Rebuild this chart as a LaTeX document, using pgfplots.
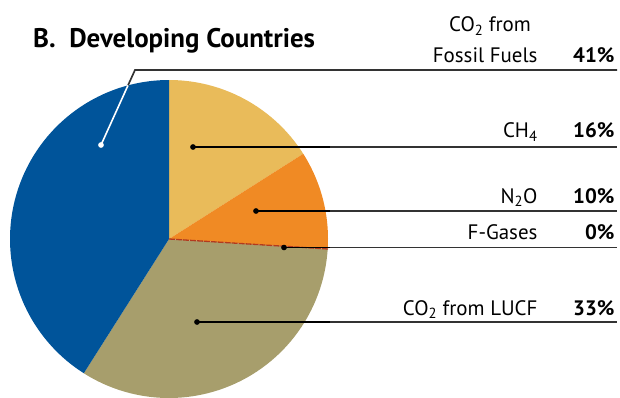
\documentclass[border=0pt]{standalone}
\usepackage{pgfplots}
\pgfplotsset{compat=1.18}
\usepackage{fontspec}
\setmainfont{PT Sans}
\definecolor{cBlue}{HTML}{00549A}
\definecolor{cYel}{HTML}{E9BB5A}
\definecolor{cOra}{HTML}{F08A24}
\definecolor{cOli}{HTML}{A79E6C}
\definecolor{cRed}{HTML}{B23A1E}
\definecolor{cLine}{HTML}{333333}
% shares in percent
\def\pCH{16}
\def\pNO{10}
\def\pFG{0}
\def\pLU{33}
\def\pFF{41}
\begin{document}
\begin{tikzpicture}
\pgfmathsetmacro{\aA}{90}
\pgfmathsetmacro{\aB}{\aA-3.6*\pCH}
\pgfmathsetmacro{\aC}{\aB-3.6*\pNO}
\pgfmathsetmacro{\aD}{\aC-3.6*\pFG}
\pgfmathsetmacro{\aE}{\aD-3.6*\pLU}
\pgfmathsetmacro{\aF}{\aE-3.6*\pFF}
\begin{axis}[
  width=620bp, height=397bp, scale only axis,
  xmin=0, xmax=620, ymin=0, ymax=397,
  hide axis, clip=true,
]
% pie sectors (centre 169,158; radius 159)
\addplot[fill=cYel, draw=none, domain=\aB:\aA, samples=80, variable=\t] ({169+159*cos(\t)},{158+159*sin(\t)}) -- (169,158) -- cycle;
\addplot[fill=cOra, draw=none, domain=\aC:\aB, samples=60, variable=\t] ({169+159*cos(\t)},{158+159*sin(\t)}) -- (169,158) -- cycle;
\addplot[fill=cOli, draw=none, domain=\aE:\aD, samples=120, variable=\t] ({169+159*cos(\t)},{158+159*sin(\t)}) -- (169,158) -- cycle;
\addplot[fill=cBlue, draw=none, domain=\aF:\aE, samples=140, variable=\t] ({169+159*cos(\t)},{158+159*sin(\t)}) -- (169,158) -- cycle;
% F-gases: 0% drawn as thin line
\addplot[cRed, line width=1.3pt, dash pattern=on 6pt off 1pt] coordinates {(169,158) (328,148)};
% leader lines
\addplot[cLine, line width=1.7pt] coordinates {(128,311.6) (135,327) (617,327)};
\addplot[white, line width=1.6pt] coordinates {(101,252) (128,311.6)};
\addplot[black, line width=1.3pt] coordinates {(193,250) (330,250)};
\addplot[cLine, line width=2pt] coordinates {(330,250) (617,250)};
\addplot[black, line width=1.3pt] coordinates {(256,186) (330,186)};
\addplot[cLine, line width=2pt] coordinates {(330,186) (617,186)};
\addplot[black, line width=1.3pt] coordinates {(284,149.5) (330,149.5)};
\addplot[cLine, line width=2pt] coordinates {(330,149.5) (617,149.5)};
\addplot[black, line width=1.3pt] coordinates {(197,75) (330,75)};
\addplot[cLine, line width=2pt] coordinates {(330,75) (617,75)};
% dots
\addplot[only marks, mark=*, mark size=2.6pt, black] coordinates {(193,250) (256,186) (284,149.5) (197,75)};
\addplot[only marks, mark=*, mark size=2.6pt, white] coordinates {(101,252)};
% texts
\node[anchor=base west, inner sep=0pt, font=\bfseries\fontsize{27}{30}\selectfont] at (33,349) {B.\ \ Developing Countries};
\node[anchor=base, font=\fontsize{21}{24}\selectfont] at (490,365) {CO\textsubscript{2} from};
\node[anchor=base east, font=\fontsize{21}{24}\selectfont] at (541,334) {Fossil Fuels};
\node[anchor=base east, font=\bfseries\fontsize{21}{24}\selectfont] at (618,334) {41\%};
\node[anchor=base east, font=\fontsize{21}{24}\selectfont] at (541,259) {CH\textsubscript{4}};
\node[anchor=base east, font=\bfseries\fontsize{21}{24}\selectfont] at (618,259) {16\%};
\node[anchor=base east, font=\fontsize{21}{24}\selectfont] at (541,194) {N\textsubscript{2}O};
\node[anchor=base east, font=\bfseries\fontsize{21}{24}\selectfont] at (618,194) {10\%};
\node[anchor=base east, font=\fontsize{21}{24}\selectfont] at (541,158) {F-Gases};
\node[anchor=base east, font=\bfseries\fontsize{21}{24}\selectfont] at (618,158) {0\%};
\node[anchor=base east, font=\fontsize{21}{24}\selectfont] at (541,82) {CO\textsubscript{2} from LUCF};
\node[anchor=base east, font=\bfseries\fontsize{21}{24}\selectfont] at (618,82) {33\%};
\end{axis}
\pgfresetboundingbox
\path[use as bounding box] (current axis.south west) rectangle (current axis.north east);
\end{tikzpicture}
\end{document}
